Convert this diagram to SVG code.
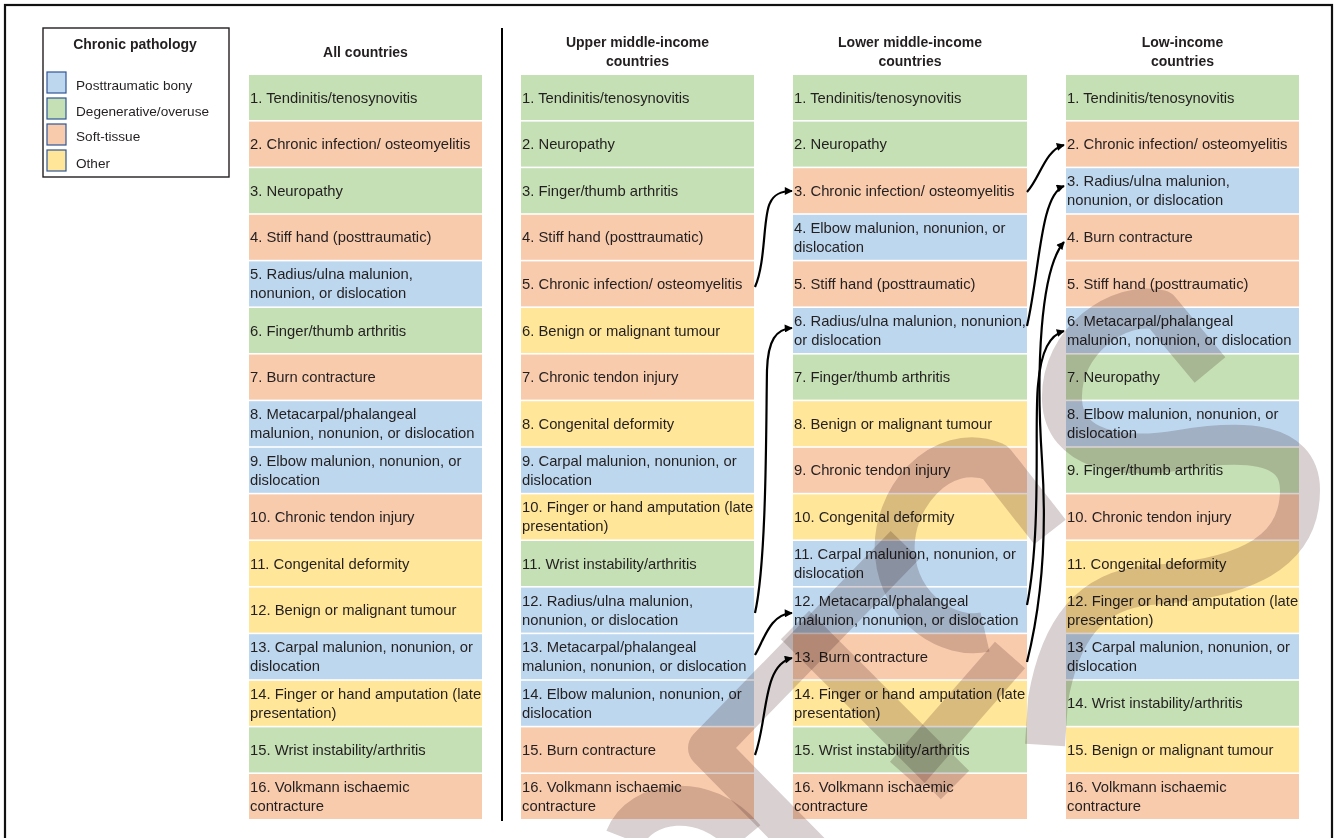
<svg xmlns="http://www.w3.org/2000/svg" width="1335" height="838" viewBox="0 0 1335 838">
<defs>
<style>
.g{fill:#c5e0b4}.o{fill:#f8cbad}.b{fill:#bdd7ee}.y{fill:#ffe699}
.t{font-family:"Liberation Sans",Arial,sans-serif;font-size:14.8px;fill:#231f20}
.h{font-family:"Liberation Sans",Arial,sans-serif;font-size:14px;font-weight:bold;fill:#231f20;text-anchor:middle}
.lg{font-family:"Liberation Sans",Arial,sans-serif;font-size:13.6px;fill:#231f20}
.sw{stroke:#2f5597;stroke-width:1.2}
.c{fill:none;stroke:#000;stroke-width:2.2;marker-end:url(#ah)}
.w{fill:none;stroke:#d9d1d1;stroke-width:40;mix-blend-mode:multiply;stroke-linejoin:round}
</style>
<marker id="ah" viewBox="0 0 10 10" refX="9" refY="5" markerWidth="9" markerHeight="8" markerUnits="userSpaceOnUse" orient="auto"><path d="M0,0 L10,5 L0,10 z" fill="#000"/></marker>
</defs>
<rect x="0" y="0" width="1335" height="838" fill="#fff"/>
<rect x="5" y="5" width="1327" height="860" fill="none" stroke="#111" stroke-width="2.2"/>

<g id="legend">
<rect x="43" y="28" width="186" height="149" fill="#fff" stroke="#231f20" stroke-width="1.4"/>
<text class="h" x="135" y="49">Chronic pathology</text>
<rect class="b sw" x="47" y="72" width="19" height="21"/>
<rect class="g sw" x="47" y="98" width="19" height="21"/>
<rect class="o sw" x="47" y="124" width="19" height="21"/>
<rect class="y sw" x="47" y="150" width="19" height="21"/>
<text class="lg" x="76" y="90">Posttraumatic bony</text>
<text class="lg" x="76" y="116">Degenerative/overuse</text>
<text class="lg" x="76" y="141">Soft-tissue</text>
<text class="lg" x="76" y="168">Other</text>
</g>

<g id="headers">
<text class="h" x="365.5" y="57">All countries</text>
<text class="h" x="637.5" y="47">Upper middle-income</text>
<text class="h" x="637.5" y="66">countries</text>
<text class="h" x="910" y="47">Lower middle-income</text>
<text class="h" x="910" y="66">countries</text>
<text class="h" x="1182.5" y="47">Low-income</text>
<text class="h" x="1182.5" y="66">countries</text>
</g>
<line x1="502" y1="28" x2="502" y2="821" stroke="#000" stroke-width="2"/>

<g id="col-all">
<g id="all-1"><rect class="g" x="249" y="75" width="233" height="45"/><text class="t" x="250" y="102.5">1. Tendinitis/tenosynovitis</text></g>
<g id="all-2"><rect class="o" x="249" y="121.6" width="233" height="45"/><text class="t" x="250" y="149.1">2. Chronic infection/ osteomyelitis</text></g>
<g id="all-3"><rect class="g" x="249" y="168.2" width="233" height="45"/><text class="t" x="250" y="195.7">3. Neuropathy</text></g>
<g id="all-4"><rect class="o" x="249" y="214.8" width="233" height="45"/><text class="t" x="250" y="242.3">4. Stiff hand (posttraumatic)</text></g>
<g id="all-5"><rect class="b" x="249" y="261.4" width="233" height="45"/><text class="t" x="250" y="279.4">5. Radius/ulna malunion,<tspan x="250" y="298.4">nonunion, or dislocation</tspan></text></g>
<g id="all-6"><rect class="g" x="249" y="308" width="233" height="45"/><text class="t" x="250" y="335.5">6. Finger/thumb arthritis</text></g>
<g id="all-7"><rect class="o" x="249" y="354.6" width="233" height="45"/><text class="t" x="250" y="382.1">7. Burn contracture</text></g>
<g id="all-8"><rect class="b" x="249" y="401.2" width="233" height="45"/><text class="t" x="250" y="419.2">8. Metacarpal/phalangeal<tspan x="250" y="438.2">malunion, nonunion, or dislocation</tspan></text></g>
<g id="all-9"><rect class="b" x="249" y="447.8" width="233" height="45"/><text class="t" x="250" y="465.8">9. Elbow malunion, nonunion, or<tspan x="250" y="484.8">dislocation</tspan></text></g>
<g id="all-10"><rect class="o" x="249" y="494.4" width="233" height="45"/><text class="t" x="250" y="521.9">10. Chronic tendon injury</text></g>
<g id="all-11"><rect class="y" x="249" y="541" width="233" height="45"/><text class="t" x="250" y="568.5">11. Congenital deformity</text></g>
<g id="all-12"><rect class="y" x="249" y="587.6" width="233" height="45"/><text class="t" x="250" y="615.1">12. Benign or malignant tumour</text></g>
<g id="all-13"><rect class="b" x="249" y="634.2" width="233" height="45"/><text class="t" x="250" y="652.2">13. Carpal malunion, nonunion, or<tspan x="250" y="671.2">dislocation</tspan></text></g>
<g id="all-14"><rect class="y" x="249" y="680.8" width="233" height="45"/><text class="t" x="250" y="698.8">14. Finger or hand amputation (late<tspan x="250" y="717.8">presentation)</tspan></text></g>
<g id="all-15"><rect class="g" x="249" y="727.4" width="233" height="45"/><text class="t" x="250" y="754.9">15. Wrist instability/arthritis</text></g>
<g id="all-16"><rect class="o" x="249" y="774" width="233" height="45"/><text class="t" x="250" y="792">16. Volkmann ischaemic<tspan x="250" y="811">contracture</tspan></text></g>
</g>

<g id="col-umi">
<g id="umi-1"><rect class="g" x="521" y="75" width="233" height="45"/><text class="t" x="522" y="102.5">1. Tendinitis/tenosynovitis</text></g>
<g id="umi-2"><rect class="g" x="521" y="121.6" width="233" height="45"/><text class="t" x="522" y="149.1">2. Neuropathy</text></g>
<g id="umi-3"><rect class="g" x="521" y="168.2" width="233" height="45"/><text class="t" x="522" y="195.7">3. Finger/thumb arthritis</text></g>
<g id="umi-4"><rect class="o" x="521" y="214.8" width="233" height="45"/><text class="t" x="522" y="242.3">4. Stiff hand (posttraumatic)</text></g>
<g id="umi-5"><rect class="o" x="521" y="261.4" width="233" height="45"/><text class="t" x="522" y="288.9">5. Chronic infection/ osteomyelitis</text></g>
<g id="umi-6"><rect class="y" x="521" y="308" width="233" height="45"/><text class="t" x="522" y="335.5">6. Benign or malignant tumour</text></g>
<g id="umi-7"><rect class="o" x="521" y="354.6" width="233" height="45"/><text class="t" x="522" y="382.1">7. Chronic tendon injury</text></g>
<g id="umi-8"><rect class="y" x="521" y="401.2" width="233" height="45"/><text class="t" x="522" y="428.7">8. Congenital deformity</text></g>
<g id="umi-9"><rect class="b" x="521" y="447.8" width="233" height="45"/><text class="t" x="522" y="465.8">9. Carpal malunion, nonunion, or<tspan x="522" y="484.8">dislocation</tspan></text></g>
<g id="umi-10"><rect class="y" x="521" y="494.4" width="233" height="45"/><text class="t" x="522" y="512.4">10. Finger or hand amputation (late<tspan x="522" y="531.4">presentation)</tspan></text></g>
<g id="umi-11"><rect class="g" x="521" y="541" width="233" height="45"/><text class="t" x="522" y="568.5">11. Wrist instability/arthritis</text></g>
<g id="umi-12"><rect class="b" x="521" y="587.6" width="233" height="45"/><text class="t" x="522" y="605.6">12. Radius/ulna malunion,<tspan x="522" y="624.6">nonunion, or dislocation</tspan></text></g>
<g id="umi-13"><rect class="b" x="521" y="634.2" width="233" height="45"/><text class="t" x="522" y="652.2">13. Metacarpal/phalangeal<tspan x="522" y="671.2">malunion, nonunion, or dislocation</tspan></text></g>
<g id="umi-14"><rect class="b" x="521" y="680.8" width="233" height="45"/><text class="t" x="522" y="698.8">14. Elbow malunion, nonunion, or<tspan x="522" y="717.8">dislocation</tspan></text></g>
<g id="umi-15"><rect class="o" x="521" y="727.4" width="233" height="45"/><text class="t" x="522" y="754.9">15. Burn contracture</text></g>
<g id="umi-16"><rect class="o" x="521" y="774" width="233" height="45"/><text class="t" x="522" y="792">16. Volkmann ischaemic<tspan x="522" y="811">contracture</tspan></text></g>
</g>

<g id="col-lmi">
<g id="lmi-1"><rect class="g" x="793" y="75" width="234" height="45"/><text class="t" x="794" y="102.5">1. Tendinitis/tenosynovitis</text></g>
<g id="lmi-2"><rect class="g" x="793" y="121.6" width="234" height="45"/><text class="t" x="794" y="149.1">2. Neuropathy</text></g>
<g id="lmi-3"><rect class="o" x="793" y="168.2" width="234" height="45"/><text class="t" x="794" y="195.7">3. Chronic infection/ osteomyelitis</text></g>
<g id="lmi-4"><rect class="b" x="793" y="214.8" width="234" height="45"/><text class="t" x="794" y="232.8">4. Elbow malunion, nonunion, or<tspan x="794" y="251.8">dislocation</tspan></text></g>
<g id="lmi-5"><rect class="o" x="793" y="261.4" width="234" height="45"/><text class="t" x="794" y="288.9">5. Stiff hand (posttraumatic)</text></g>
<g id="lmi-6"><rect class="b" x="793" y="308" width="234" height="45"/><text class="t" x="794" y="326">6. Radius/ulna malunion, nonunion,<tspan x="794" y="345">or dislocation</tspan></text></g>
<g id="lmi-7"><rect class="g" x="793" y="354.6" width="234" height="45"/><text class="t" x="794" y="382.1">7. Finger/thumb arthritis</text></g>
<g id="lmi-8"><rect class="y" x="793" y="401.2" width="234" height="45"/><text class="t" x="794" y="428.7">8. Benign or malignant tumour</text></g>
<g id="lmi-9"><rect class="o" x="793" y="447.8" width="234" height="45"/><text class="t" x="794" y="475.3">9. Chronic tendon injury</text></g>
<g id="lmi-10"><rect class="y" x="793" y="494.4" width="234" height="45"/><text class="t" x="794" y="521.9">10. Congenital deformity</text></g>
<g id="lmi-11"><rect class="b" x="793" y="541" width="234" height="45"/><text class="t" x="794" y="559">11. Carpal malunion, nonunion, or<tspan x="794" y="578">dislocation</tspan></text></g>
<g id="lmi-12"><rect class="b" x="793" y="587.6" width="234" height="45"/><text class="t" x="794" y="605.6">12. Metacarpal/phalangeal<tspan x="794" y="624.6">malunion, nonunion, or dislocation</tspan></text></g>
<g id="lmi-13"><rect class="o" x="793" y="634.2" width="234" height="45"/><text class="t" x="794" y="661.7">13. Burn contracture</text></g>
<g id="lmi-14"><rect class="y" x="793" y="680.8" width="234" height="45"/><text class="t" x="794" y="698.8">14. Finger or hand amputation (late<tspan x="794" y="717.8">presentation)</tspan></text></g>
<g id="lmi-15"><rect class="g" x="793" y="727.4" width="234" height="45"/><text class="t" x="794" y="754.9">15. Wrist instability/arthritis</text></g>
<g id="lmi-16"><rect class="o" x="793" y="774" width="234" height="45"/><text class="t" x="794" y="792">16. Volkmann ischaemic<tspan x="794" y="811">contracture</tspan></text></g>
</g>

<g id="col-li">
<g id="li-1"><rect class="g" x="1066" y="75" width="233" height="45"/><text class="t" x="1067" y="102.5">1. Tendinitis/tenosynovitis</text></g>
<g id="li-2"><rect class="o" x="1066" y="121.6" width="233" height="45"/><text class="t" x="1067" y="149.1">2. Chronic infection/ osteomyelitis</text></g>
<g id="li-3"><rect class="b" x="1066" y="168.2" width="233" height="45"/><text class="t" x="1067" y="186.2">3. Radius/ulna malunion,<tspan x="1067" y="205.2">nonunion, or dislocation</tspan></text></g>
<g id="li-4"><rect class="o" x="1066" y="214.8" width="233" height="45"/><text class="t" x="1067" y="242.3">4. Burn contracture</text></g>
<g id="li-5"><rect class="o" x="1066" y="261.4" width="233" height="45"/><text class="t" x="1067" y="288.9">5. Stiff hand (posttraumatic)</text></g>
<g id="li-6"><rect class="b" x="1066" y="308" width="233" height="45"/><text class="t" x="1067" y="326">6. Metacarpal/phalangeal<tspan x="1067" y="345">malunion, nonunion, or dislocation</tspan></text></g>
<g id="li-7"><rect class="g" x="1066" y="354.6" width="233" height="45"/><text class="t" x="1067" y="382.1">7. Neuropathy</text></g>
<g id="li-8"><rect class="b" x="1066" y="401.2" width="233" height="45"/><text class="t" x="1067" y="419.2">8. Elbow malunion, nonunion, or<tspan x="1067" y="438.2">dislocation</tspan></text></g>
<g id="li-9"><rect class="g" x="1066" y="447.8" width="233" height="45"/><text class="t" x="1067" y="475.3">9. Finger/thumb arthritis</text></g>
<g id="li-10"><rect class="o" x="1066" y="494.4" width="233" height="45"/><text class="t" x="1067" y="521.9">10. Chronic tendon injury</text></g>
<g id="li-11"><rect class="y" x="1066" y="541" width="233" height="45"/><text class="t" x="1067" y="568.5">11. Congenital deformity</text></g>
<g id="li-12"><rect class="y" x="1066" y="587.6" width="233" height="45"/><text class="t" x="1067" y="605.6">12. Finger or hand amputation (late<tspan x="1067" y="624.6">presentation)</tspan></text></g>
<g id="li-13"><rect class="b" x="1066" y="634.2" width="233" height="45"/><text class="t" x="1067" y="652.2">13. Carpal malunion, nonunion, or<tspan x="1067" y="671.2">dislocation</tspan></text></g>
<g id="li-14"><rect class="g" x="1066" y="680.8" width="233" height="45"/><text class="t" x="1067" y="708.3">14. Wrist instability/arthritis</text></g>
<g id="li-15"><rect class="y" x="1066" y="727.4" width="233" height="45"/><text class="t" x="1067" y="754.9">15. Benign or malignant tumour</text></g>
<g id="li-16"><rect class="o" x="1066" y="774" width="233" height="45"/><text class="t" x="1067" y="792">16. Volkmann ischaemic<tspan x="1067" y="811">contracture</tspan></text></g>
</g>

<g id="connectors">
<path class="c" d="M755,287 C766,262 763,215 770,203 C774,194 781,191 792,191"/>
<path class="c" d="M755,613 C767,560 766,420 767,370 C768,340 776,329 792,328"/>
<path class="c" d="M755,655 C764,640 770,614 792,613"/>
<path class="c" d="M755,755 C768,720 762,665 792,658"/>
<path class="c" d="M1027,192 C1040,178 1045,150 1064,145"/>
<path class="c" d="M1027,326 C1040,270 1040,195 1064,186"/>
<path class="c" d="M1027,605 C1042,530 1034,420 1038,385 C1041,350 1050,335 1064,331"/>
<path class="c" d="M1027,662 C1045,590 1046,520 1042,460 C1036,370 1040,270 1064,242"/>
</g>

<g id="watermark">
<path class="w" d="M1210,370 L1160,310 C1120,300 1060,340 1062,400 C1064,450 1120,460 1180,450 C1240,440 1300,440 1300,490 C1300,560 1230,580 1150,585 C1090,590 1060,630 1048,700 L1045,745"/>
<path class="w" d="M1050,532 L995,462 C940,440 890,500 895,555 C900,610 950,640 985,632"/>
<path class="w" d="M905,545 L708,748 L820,862"/>
<path class="w" d="M795,625 L955,785"/>
<path class="w" d="M1010,655 L905,775"/>
<path class="w" d="M625,838 C640,800 705,790 745,838"/>
</g>
</svg>
